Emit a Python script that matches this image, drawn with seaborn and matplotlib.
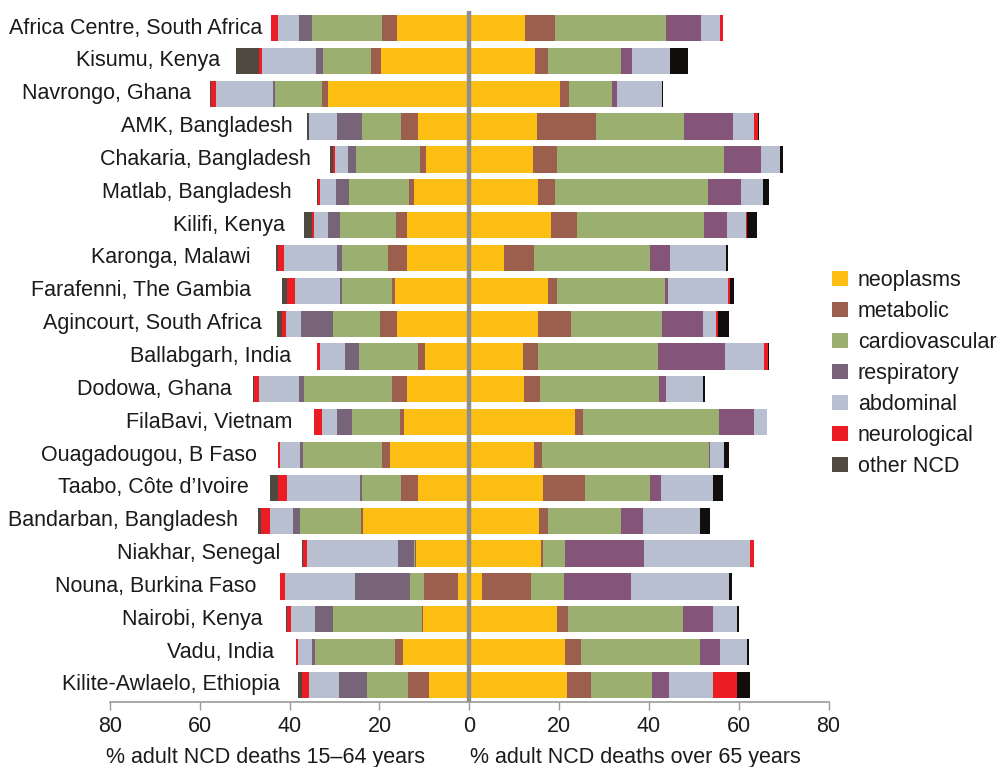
import numpy as np
import pandas as pd
import matplotlib
matplotlib.use("Agg")
import matplotlib.pyplot as plt
import seaborn as sns
from matplotlib.patches import Patch

sns.set_style("white")
plt.rcParams["font.family"] = ["Liberation Sans", "DejaVu Sans"]
plt.rcParams["text.color"] = "#1c1a1b"
plt.rcParams["xtick.color"] = "#1c1a1b"

sites = [
    "Africa Centre, South Africa", "Kisumu, Kenya", "Navrongo, Ghana",
    "AMK, Bangladesh", "Chakaria, Bangladesh", "Matlab, Bangladesh",
    "Kilifi, Kenya", "Karonga, Malawi", "Farafenni, The Gambia",
    "Agincourt, South Africa", "Ballabgarh, India", "Dodowa, Ghana",
    "FilaBavi, Vietnam", "Ouagadougou, B Faso", "Taabo, Côte d\u2019Ivoire",
    "Bandarban, Bangladesh", "Niakhar, Senegal", "Nouna, Burkina Faso",
    "Nairobi, Kenya", "Vadu, India", "Kilite-Awlaelo, Ethiopia",
]
causes = ["neoplasms", "metabolic", "cardiovascular", "respiratory",
          "abdominal", "neurological", "other NCD"]

# % of adult NCD deaths aged 15-64, by cause
young_neoplasms = [16.2, 19.6, 31.4, 11.5, 9.7, 12.4, 13.9, 13.8, 16.6, 16.1, 9.9,
                   13.8, 14.6, 17.7, 11.4, 23.6, 11.8, 2.5, 10.3, 14.8, 9.0]
young_metabolic = [3.3, 2.2, 1.5, 3.6, 1.3, 1.1, 2.5, 4.4, 0.6, 3.7, 1.5,
                   3.4, 0.9, 1.8, 3.7, 0.5, 0.3, 7.6, 0.3, 1.8, 4.7]
young_cardio = [15.5, 10.7, 10.3, 8.7, 14.2, 13.3, 12.4, 10.2, 11.1, 10.5, 13.2,
                19.6, 10.6, 17.5, 8.7, 13.6, 0.3, 3.2, 19.7, 17.7, 9.0]
young_resp = [2.9, 1.6, 0.6, 5.7, 1.9, 2.9, 2.7, 1.1, 0.5, 7.1, 3.0,
              1.1, 3.4, 0.6, 0.6, 1.5, 3.5, 12.1, 4.1, 0.7, 6.3]
young_abdominal = [4.7, 12.0, 12.7, 6.1, 2.9, 3.5, 3.0, 11.7, 10.0, 3.4, 5.7,
                   8.9, 3.3, 4.5, 16.2, 5.1, 20.3, 15.6, 5.2, 3.1, 6.6]
young_neuro = [1.5, 0.7, 1.1, 0.0, 0.4, 0.4, 0.6, 1.5, 1.8, 0.8, 0.7,
               1.1, 1.7, 0.5, 1.9, 2.0, 0.8, 1.1, 0.9, 0.4, 1.7]
young_other = [0.0, 5.2, 0.2, 0.5, 0.6, 0.3, 1.6, 0.4, 1.0, 1.3, 0.0,
               0.2, 0.0, 0.0, 1.8, 0.7, 0.2, 0.0, 0.2, 0.0, 0.9]

# % of adult NCD deaths aged over 65, by cause
old_neoplasms = [12.4, 14.7, 20.1, 15.0, 14.1, 15.4, 18.2, 7.8, 17.6, 15.4, 12.0,
                 12.2, 23.6, 14.3, 16.4, 15.5, 16.0, 2.8, 19.6, 21.3, 21.7]
old_metabolic = [6.7, 2.9, 2.0, 13.2, 5.4, 3.7, 5.8, 6.6, 1.9, 7.2, 3.2,
                 3.6, 1.7, 2.0, 9.4, 2.0, 0.5, 11.0, 2.4, 3.6, 5.3]
old_cardio = [24.8, 16.1, 9.7, 19.5, 37.1, 34.0, 28.3, 25.8, 24.0, 20.2, 26.9,
              26.4, 30.4, 37.1, 14.5, 16.2, 4.9, 7.3, 25.5, 26.5, 13.7]
old_resp = [7.7, 2.6, 1.1, 11.1, 8.4, 7.4, 5.1, 4.5, 0.8, 9.2, 14.9,
            1.5, 7.8, 0.3, 2.4, 5.0, 17.6, 14.9, 6.7, 4.5, 3.8]
old_abdominal = [4.3, 8.4, 9.9, 4.7, 4.2, 4.9, 4.2, 12.5, 13.4, 3.0, 8.7,
                 8.4, 2.7, 3.1, 11.6, 12.6, 23.5, 21.9, 5.4, 5.9, 9.7]
old_neuro = [0.6, 0.0, 0.0, 0.8, 0.0, 0.0, 0.3, 0.0, 0.3, 0.4, 0.8,
             0.0, 0.0, 0.0, 0.0, 0.0, 0.8, 0.0, 0.0, 0.0, 5.4]
old_other = [0.0, 3.9, 0.3, 0.3, 0.6, 1.4, 2.2, 0.3, 1.0, 2.4, 0.2,
             0.3, 0.0, 1.0, 2.1, 2.3, 0.2, 0.5, 0.4, 0.4, 2.9]

# where each site name ends (hand placed in the original)
label_right = [-46.2, -55.5, -62.0, -39.3, -35.3, -39.6, -41.0, -48.6, -48.6,
               -46.2, -39.7, -52.8, -39.3, -47.2, -49.0, -51.4, -42.0, -47.5,
               -46.0, -43.5, -42.2]

young = np.array([young_neoplasms, young_metabolic, young_cardio, young_resp,
                  young_abdominal, young_neuro, young_other])
old = np.array([old_neoplasms, old_metabolic, old_cardio, old_resp,
                old_abdominal, old_neuro, old_other])

colors_left = ["#FDBE14", "#9C5E4D", "#9BB070", "#776478", "#B8BFD0", "#EC1C24", "#4E4A3F"]
colors_right = ["#FDBE14", "#9C5E4D", "#9BB070", "#845579", "#B8BFD0", "#EC1C24", "#120E0E"]

fig = plt.figure(figsize=(9.97, 7.67), dpi=100)
ax = fig.add_axes([0.1103, 0.0851, 0.7208, 0.9006])

# stacked bars: draw cumulative totals from the outside in
for vals, sign, cols in [(young, -1, colors_left), (old, 1, colors_right)]:
    cum = np.cumsum(vals, axis=0)
    for k in range(len(causes) - 1, -1, -1):
        df = pd.DataFrame({"site": sites, "value": sign * cum[k]})
        sns.barplot(data=df, x="value", y="site", orient="h", color=cols[k],
                    saturation=1, width=0.8, linewidth=0, ax=ax)

ax.axvline(0, color="#8E8E8E", lw=3.2, zorder=5)

ax.set_xlim(-80, 80)
ax.set_ylim(len(sites) - 0.49, -0.52)
ax.set_xticks(np.arange(-80, 81, 20))
ax.set_xticklabels([str(abs(t)) for t in range(-80, 81, 20)])
ax.tick_params(axis="x", direction="out", length=6, width=1, color="#999999",
               labelsize=15.5, pad=4, bottom=True)
ax.set_yticks([])
ax.set_xlabel("")
ax.set_ylabel("")
for s in ["top", "left", "right"]:
    ax.spines[s].set_visible(False)
ax.spines["bottom"].set_color("#999999")
ax.spines["bottom"].set_linewidth(1.2)

for i, name in enumerate(sites):
    ax.text(label_right[i], i, name, ha="right", va="center", fontsize=15.5)

fig.text(0.1063, 0.012, "% adult NCD deaths 15\u201364 years", fontsize=15.5,
         ha="left", va="center")
fig.text(0.4714, 0.012, "% adult NCD deaths over 65 years", fontsize=15.5,
         ha="left", va="center")

legend_cols = ["#FDBE14", "#9C5E4D", "#9BB070", "#776478", "#B8BFD0", "#EC1C24", "#504B42"]
handles = [Patch(facecolor=c, edgecolor="none", label=n) for c, n in zip(legend_cols, causes)]
fig.legend(handles=handles, loc="upper left", bbox_to_anchor=(0.8345, 0.648),
           frameon=False, fontsize=15.5, handlelength=0.75, handleheight=0.75,
           handletextpad=0.45, labelspacing=0.465, borderpad=0, borderaxespad=0)

fig.savefig("out.png", dpi=100, facecolor="white")
